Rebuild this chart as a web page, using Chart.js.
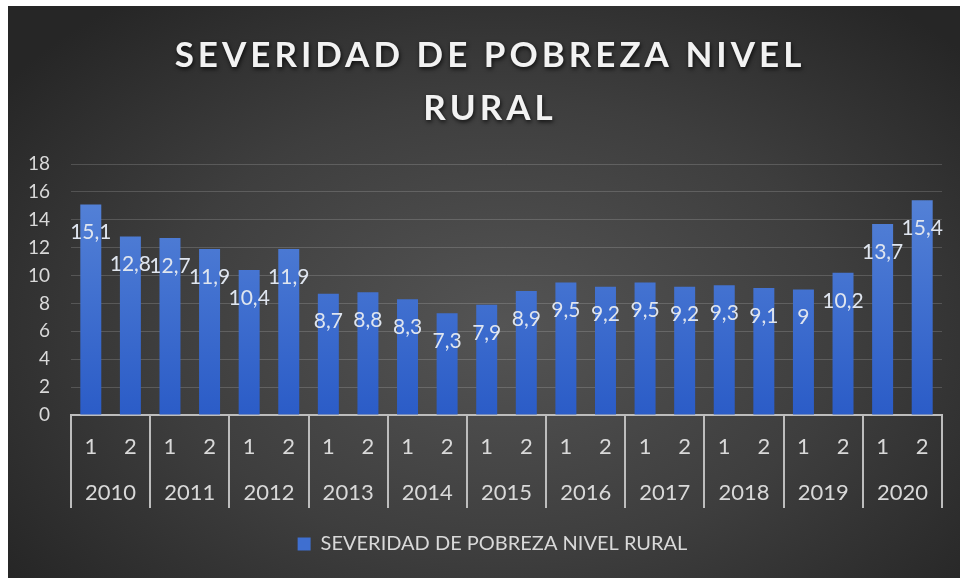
<!DOCTYPE html>
<html>
<head>
<meta charset="utf-8">
<script src="https://cdn.jsdelivr.net/npm/chart.js@4.4.1/dist/chart.umd.min.js"></script>
<style>
  html, body { margin: 0; padding: 0; background: #fff; }
  #wrap {
    position: absolute; left: 8px; top: 6px; width: 952px; height: 572px;
    background: radial-gradient(ellipse 65% 72% at 52% 56%, #545454 0%, #3e3e3e 55%, #262626 100%);
  }
</style>
</head>
<body>
<div id="wrap"><canvas id="chart"></canvas></div>
<script>
// chart data
const years = ['2010', '2011', '2012', '2013', '2014', '2015', '2016', '2017', '2018', '2019', '2020'];
const semesters = ['1', '2', '1', '2', '1', '2', '1', '2', '1', '2', '1', '2',
                   '1', '2', '1', '2', '1', '2', '1', '2', '1', '2'];
const values = [15.1, 12.8, 12.7, 11.9, 10.4, 11.9, 8.7, 8.8, 8.3, 7.3, 7.9,
                8.9, 9.5, 9.2, 9.5, 9.2, 9.3, 9.1, 9, 10.2, 13.7, 15.4];
const yTicks = [0, 2, 4, 6, 8, 10, 12, 14, 16, 18];
const titleLines = ['SEVERIDAD DE POBREZA NIVEL', 'RURAL'];
const seriesName = 'SEVERIDAD DE POBREZA NIVEL RURAL';

const FONT = 'Lato, "Open Sans", sans-serif';
const TEXT = '#d9d9d9';
const LINE = '#bdbdbd';

// decimal comma, like the original
const fmt = v => String(v).replace('.', ',');

// big shadowed title with letter spacing
const titlePlugin = {
    id: 'bigTitle',
    afterDraw(chart) {
        const ctx = chart.ctx;
        ctx.save();
        ctx.font = `bold 35px ${FONT}`;
        ctx.letterSpacing = '4px';
        ctx.fillStyle = '#f2f2f2';
        ctx.textAlign = 'center';
        ctx.textBaseline = 'alphabetic';
        ctx.shadowColor = 'rgba(0,0,0,0.75)';
        ctx.shadowBlur = 4;
        ctx.shadowOffsetX = 1;
        ctx.shadowOffsetY = 2;
        const cx = chart.width / 2 + 6;
        ctx.fillText(titleLines[0], cx, 61);
        ctx.fillText(titleLines[1], cx, 114);
        ctx.restore();
    }
};

// value labels sitting a bit below the bar tops
const valueLabels = {
    id: 'valueLabels',
    afterDatasetsDraw(chart) {
        const ctx = chart.ctx;
        const meta = chart.getDatasetMeta(0);
        ctx.save();
        ctx.font = `21px ${FONT}`;
        ctx.fillStyle = '#dfe5ef';
        ctx.textAlign = 'center';
        ctx.textBaseline = 'middle';
        meta.data.forEach((bar, i) => {
            ctx.fillText(fmt(values[i]), bar.x, bar.y + 28);
        });
        ctx.restore();
    }
};

// vertical separators between years, across both x axes
const yearSeparators = {
    id: 'yearSeparators',
    afterDraw(chart) {
        const x2 = chart.scales.x2;
        const top = chart.chartArea.bottom;
        const step = x2.width / years.length;
        const ctx = chart.ctx;
        ctx.save();
        ctx.strokeStyle = LINE;
        ctx.lineWidth = 2;
        ctx.beginPath();
        for (let i = 0; i <= years.length; i++) {
            const px = Math.round(x2.left + i * step);
            ctx.moveTo(px, top);
            ctx.lineTo(px, x2.bottom);
        }
        ctx.stroke();
        ctx.restore();
    }
};

// the legend sits a little right of the canvas centre in the original
const legendNudge = {
    id: 'legendNudge',
    afterLayout(chart) {
        if (chart.legend) chart.legend.left += 35;
    }
};

const barFill = (c) => {
    const area = c.chart.chartArea;
    if (!area) return '#4472c4';
    const g = c.chart.ctx.createLinearGradient(0, area.top, 0, area.bottom);
    g.addColorStop(0, '#5a87d9');
    g.addColorStop(1, '#2b5cc7');
    return g;
};

new Chart(document.getElementById('chart'), {
    type: 'bar',
    data: {
        labels: semesters,
        datasets: [{
            label: seriesName,
            data: values,
            backgroundColor: barFill,
            borderWidth: 0,
            categoryPercentage: 1,
            barPercentage: 0.53
        }]
    },
    options: {
        responsive: true,
        maintainAspectRatio: false,
        animation: false,
        layout: { padding: { top: 158, right: 18, left: 0, bottom: 14 } },
        plugins: {
            title: { display: false },
            tooltip: { enabled: false },
            legend: {
                position: 'bottom',
                labels: {
                    color: TEXT,
                    font: { family: FONT, size: 20 },
                    boxWidth: 13,
                    boxHeight: 13,
                    padding: 26,
                    generateLabels: (chart) =>
                        Chart.defaults.plugins.legend.labels.generateLabels(chart).map(l => ({
                            ...l, fillStyle: '#3f6fd0', strokeStyle: '#3f6fd0', lineWidth: 0
                        }))
                }
            }
        },
        scales: {
            y: {
                min: 0,
                max: 18,
                afterBuildTicks: s => { s.ticks = yTicks.map(v => ({ value: v })); },
                afterFit: s => { s.width = 63; },
                grid: { color: 'rgba(255,255,255,0.16)', lineWidth: 1, drawTicks: false },
                border: { display: false },
                ticks: { color: TEXT, font: { family: FONT, size: 19 }, padding: 21 }
            },
            x: {
                weight: 1,
                afterFit: s => { s.height = 46; },
                grid: { display: false, drawTicks: false },
                border: { display: true, color: LINE, width: 2 },
                ticks: { color: TEXT, font: { family: FONT, size: 22 }, padding: 19, maxRotation: 0, autoSkip: false }
            },
            x2: {
                type: 'category',
                labels: years,
                position: 'bottom',
                offset: true,
                weight: 2,
                afterFit: s => { s.height = 47; },
                grid: { display: false, drawTicks: false },
                border: { display: false },
                ticks: { color: TEXT, font: { family: FONT, size: 22 }, padding: 19, maxRotation: 0, autoSkip: false }
            }
        }
    },
    plugins: [titlePlugin, valueLabels, yearSeparators, legendNudge]
});
</script>
</body>
</html>
